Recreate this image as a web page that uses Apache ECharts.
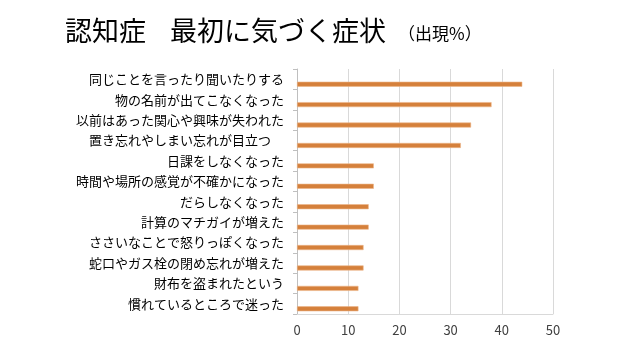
<!DOCTYPE html>
<html>
<head>
<meta charset="utf-8">
<script src="https://cdn.jsdelivr.net/npm/echarts@6/dist/echarts.min.js"></script>
<style>
html,body{margin:0;padding:0;background:#fff;}
#chart{width:640px;height:360px;}
</style>
</head>
<body>
<div id="chart"></div>
<script>
const titleA = '認知症';
const titleB = '最初に気づく症状';
const titleSub = '（出現%）';
const categories = [
  '同じことを言ったり聞いたりする',
  '物の名前が出てこなくなった',
  '以前はあった関心や興味が失われた',
  '置き忘れやしまい忘れが目立つ　',
  '日課をしなくなった',
  '時間や場所の感覚が不確かになった',
  'だらしなくなった',
  '計算のマチガイが増えた',
  'ささいなことで怒りっぽくなった',
  '蛇口やガス栓の閉め忘れが増えた',
  '財布を盗まれたという',
  '慣れているところで迷った'
];
const values = [44, 38, 34, 32, 15, 15, 14, 14, 13, 13, 12, 12];
const xTicks = [0, 10, 20, 30, 40, 50];

const font = '"Noto Sans CJK JP", "Noto Sans", sans-serif';
const chart = echarts.init(document.getElementById('chart'), null, {renderer: 'canvas'});
chart.setOption({
  animation: false,
  backgroundColor: '#ffffff',
  title: {
    text: '{a|' + titleA + '}{b|' + titleB + '}{s|' + titleSub + '}',
    left: 60,
    top: 12,
    textStyle: {
      fontFamily: font,
      fontSize: 27,
      fontWeight: 'normal',
      color: '#000000',
      rich: {
        a: {fontFamily: font, fontSize: 27, color: '#000000'},
        b: {fontFamily: font, fontSize: 27, color: '#000000', padding: [0, 0, 0, 24]},
        s: {fontFamily: font, fontSize: 17, color: '#000000', padding: [7, 0, 0, 12]}
      }
    }
  },
  grid: {left: 297, right: 87, top: 69, bottom: 46, containLabel: false},
  xAxis: {
    type: 'value',
    min: xTicks[0],
    max: xTicks[xTicks.length - 1],
    interval: 10,
    axisLine: {show: true, lineStyle: {color: '#D9D9D9'}},
    axisTick: {show: false},
    splitLine: {show: true, lineStyle: {color: '#D9D9D9', width: 1}},
    axisLabel: {fontFamily: font, fontSize: 13, color: '#404040', margin: 10}
  },
  yAxis: {
    type: 'category',
    data: categories,
    inverse: true,
    axisLine: {show: true, lineStyle: {color: '#BFBFBF'}},
    axisTick: {show: true, length: 4, lineStyle: {color: '#BFBFBF'}},
    axisLabel: {fontFamily: font, fontSize: 13, color: '#000000', margin: 13}
  },
  series: [
    {
      type: 'bar',
      data: values.map(() => null),
      barWidth: 5,
      barGap: '100%'
    },
    {
      type: 'bar',
      data: values,
      barWidth: 5,
      barGap: '100%',
      itemStyle: {color: '#D5803B', borderColor: '#EDB58A', borderWidth: 0.6}
    }
  ]
});
</script>
</body>
</html>
